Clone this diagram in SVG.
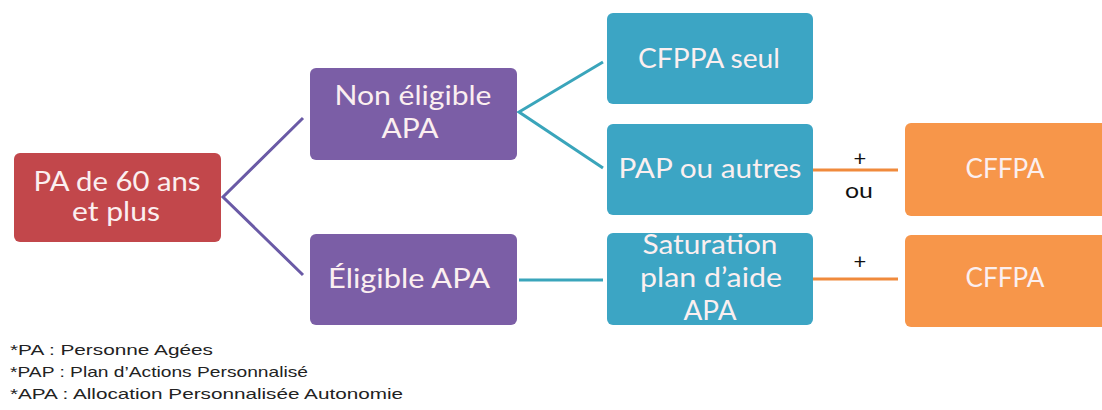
<svg xmlns="http://www.w3.org/2000/svg" width="1102" height="410" viewBox="0 0 1102 410">
  <style>
    .box { stroke: none; }
    .red { fill: #c2474b; }
    .purple { fill: #7b5ea6; }
    .teal { fill: #3ca5c4; }
    .orange { fill: #f7964a; }
    .lbl { font-family: Lato, "Open Sans", sans-serif; font-size: 26px; fill: #fbeff0; text-anchor: middle; }
    .op { font-family: Lato, "Open Sans", sans-serif; font-size: 22px; fill: #111; text-anchor: middle; }
    .note { font-family: "Liberation Sans", Arial, sans-serif; font-size: 15px; fill: #222; }
    .c-purple { stroke: #6a5aa6; stroke-width: 3; fill: none; }
    .c-teal { stroke: #3aa5bb; stroke-width: 3; fill: none; }
    .c-orange { stroke: #f08a3c; stroke-width: 3; fill: none; }
  </style>
  <rect width="1102" height="410" fill="#ffffff"/>

  <g id="connectors">
    <polyline class="c-purple" points="303,118 223,197 303,275"/>
    <polyline class="c-teal" points="603,62 519,112 603,168"/>
    <line class="c-teal" x1="519" y1="280" x2="603" y2="280"/>
    <line class="c-orange" x1="813" y1="170" x2="898" y2="170"/>
    <line class="c-orange" x1="813" y1="279" x2="898" y2="279"/>
    <text class="op" x="860" y="166">+</text>
    <text class="op" x="859" y="198" textLength="28" lengthAdjust="spacingAndGlyphs">ou</text>
    <text class="op" x="860" y="269">+</text>
  </g>

  <g id="pa60">
    <rect class="box red" x="14" y="153" width="207" height="89" rx="6"/>
    <text class="lbl" x="117" y="191" textLength="167" lengthAdjust="spacingAndGlyphs">PA de 60 ans</text>
    <text class="lbl" x="116" y="221" textLength="88" lengthAdjust="spacingAndGlyphs">et plus</text>
  </g>

  <g id="non-eligible">
    <rect class="box purple" x="310" y="68" width="207" height="92" rx="6"/>
    <text class="lbl" x="413" y="105" textLength="157" lengthAdjust="spacingAndGlyphs">Non éligible</text>
    <text class="lbl" x="410" y="138" textLength="57" lengthAdjust="spacingAndGlyphs">APA</text>
  </g>

  <g id="eligible">
    <rect class="box purple" x="310" y="234" width="207" height="91" rx="6"/>
    <text class="lbl" x="409" y="288" textLength="162" lengthAdjust="spacingAndGlyphs">Éligible APA</text>
  </g>

  <g id="cfppa-seul">
    <rect class="box teal" x="607" y="13" width="206" height="91" rx="6"/>
    <text class="lbl" x="709" y="68" textLength="142" lengthAdjust="spacingAndGlyphs">CFPPA seul</text>
  </g>

  <g id="pap-autres">
    <rect class="box teal" x="607" y="124" width="206" height="91" rx="6"/>
    <text class="lbl" x="710" y="178" textLength="183" lengthAdjust="spacingAndGlyphs">PAP ou autres</text>
  </g>

  <g id="saturation">
    <rect class="box teal" x="607" y="233" width="206" height="92" rx="6"/>
    <text class="lbl" x="710" y="254" textLength="135" lengthAdjust="spacingAndGlyphs">Saturation</text>
    <text class="lbl" x="711" y="287" textLength="142" lengthAdjust="spacingAndGlyphs">plan d’aide</text>
    <text class="lbl" x="710" y="320" textLength="53" lengthAdjust="spacingAndGlyphs">APA</text>
  </g>

  <g id="cffpa-1">
    <rect class="box orange" x="905" y="123" width="205" height="93" rx="6"/>
    <text class="lbl" x="1005" y="178" textLength="79" lengthAdjust="spacingAndGlyphs">CFFPA</text>
  </g>

  <g id="cffpa-2">
    <rect class="box orange" x="905" y="235" width="205" height="92" rx="6"/>
    <text class="lbl" x="1005" y="287" textLength="79" lengthAdjust="spacingAndGlyphs">CFFPA</text>
  </g>

  <g id="notes">
    <text class="note" x="10" y="355" textLength="203" lengthAdjust="spacingAndGlyphs">*PA : Personne Agées</text>
    <text class="note" x="10" y="377" textLength="298" lengthAdjust="spacingAndGlyphs">*PAP : Plan d’Actions Personnalisé</text>
    <text class="note" x="10" y="399" textLength="393" lengthAdjust="spacingAndGlyphs">*APA : Allocation Personnalisée Autonomie</text>
  </g>
</svg>
